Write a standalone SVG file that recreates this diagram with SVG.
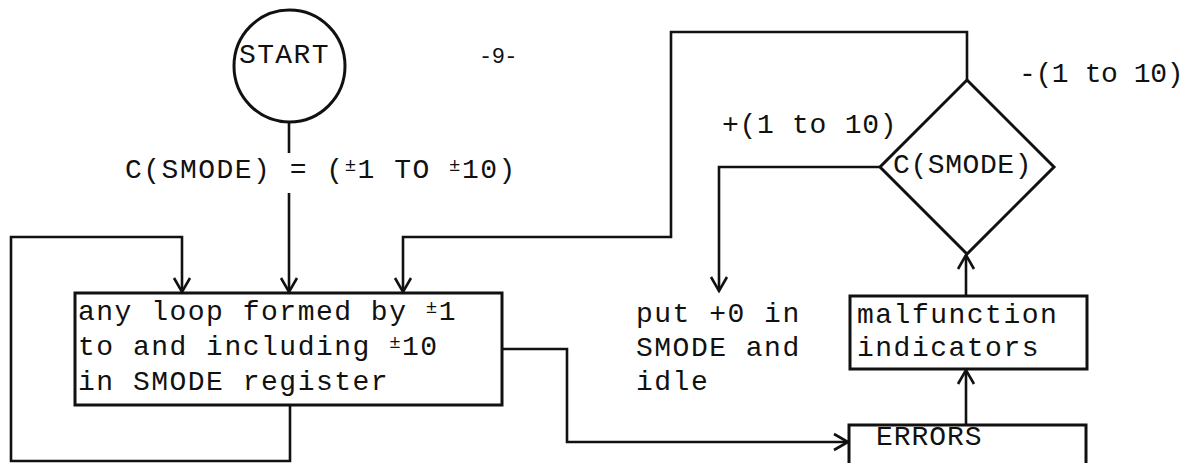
<svg xmlns="http://www.w3.org/2000/svg" width="1199" height="463" viewBox="0 0 1199 463">
<style>
text{font-family:"Liberation Mono","Courier New",monospace;font-size:28px;fill:#111;letter-spacing:1.5px}
.shape{fill:none;stroke:#111;stroke-width:3}
.conn{fill:none;stroke:#111;stroke-width:2.6;stroke-linejoin:miter}
.pm{font-size:19px}
</style>
<defs>
<marker id="ah" markerUnits="userSpaceOnUse" markerWidth="24" markerHeight="24" refX="16" refY="10" orient="auto">
<path d="M2,2 L16,10 L2,18" fill="none" stroke="#111" stroke-width="2.6"/>
</marker>
</defs>
<rect width="1199" height="463" fill="#fff"/>
<g id="connectors">
<path class="conn" d="M289,122 V153"/>
<path class="conn" d="M289,193 V292" marker-end="url(#ah)"/>
<path class="conn" d="M290,405 V461 H11 V237 H182 V292" marker-end="url(#ah)"/>
<path class="conn" d="M967,80 V32 H671 V237 H403 V292" marker-end="url(#ah)"/>
<path class="conn" d="M882,167 H719 V291" marker-end="url(#ah)"/>
<path class="conn" d="M502,349 H567 V442 H848" marker-end="url(#ah)"/>
<path class="conn" d="M966,425 V370" marker-end="url(#ah)"/>
<path class="conn" d="M966,296 V255" marker-end="url(#ah)"/>
</g>
<g id="start">
<ellipse class="shape" cx="289.5" cy="66" rx="55.5" ry="56"/>
<text x="239" y="63" textLength="91" lengthAdjust="spacing">START</text>
</g>
<g id="page-number">
<text x="479" y="63" style="font-size:22px" textLength="40" lengthAdjust="spacing">-9-</text>
</g>
<g id="condition-label">
<text x="125" y="178">C(SMODE) = (<tspan class="pm" dy="-7">±</tspan><tspan dy="7">1 TO </tspan><tspan class="pm" dy="-7">±</tspan><tspan dy="7">10)</tspan></text>
</g>
<g id="loop-box">
<rect class="shape" x="75" y="293" width="427" height="112"/>
<text x="78" y="320">any loop formed by <tspan class="pm" dy="-7">±</tspan><tspan dy="7">1</tspan></text>
<text x="78" y="355">to and including <tspan class="pm" dy="-7">±</tspan><tspan dy="7">10</tspan></text>
<text x="78" y="390">in SMODE register</text>
</g>
<g id="decision">
<path class="shape" d="M967,80 L1054,167 L967,254 L880,167 Z"/>
<text x="893" y="173" textLength="140" lengthAdjust="spacing">C(SMODE)</text>
</g>
<g id="branch-labels">
<text x="722" y="133" textLength="176" lengthAdjust="spacing">+(1 to 10)</text>
<text x="1019" y="82" textLength="166" lengthAdjust="spacing">-(1 to 10)</text>
</g>
<g id="idle">
<text x="636" y="322">put +0 in</text>
<text x="636" y="356">SMODE and</text>
<text x="636" y="390">idle</text>
</g>
<g id="malfunction">
<rect class="shape" x="850" y="296" width="237" height="73"/>
<text x="857" y="323">malfunction</text>
<text x="857" y="356">indicators</text>
</g>
<g id="errors">
<rect class="shape" x="849" y="425" width="237" height="50"/>
<text x="876" y="445" textLength="107" lengthAdjust="spacing">ERRORS</text>
</g>
</svg>
